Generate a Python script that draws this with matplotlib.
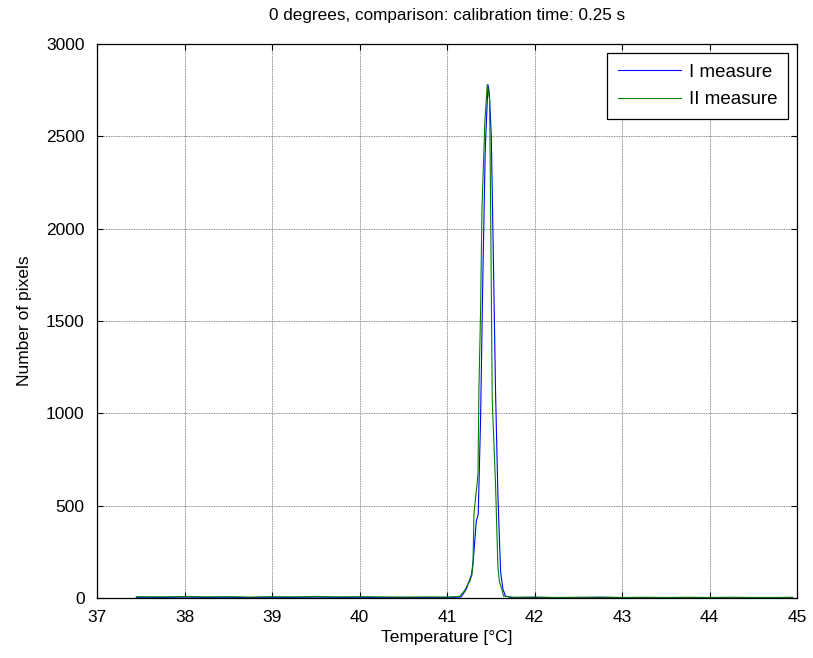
import numpy as np
import matplotlib
matplotlib.use('Agg')
import matplotlib.pyplot as plt

plt.rcParams['font.family'] = ['Liberation Sans', 'DejaVu Sans']

# baseline temperatures either side of the peak
base_left_t = [37.45, 37.75, 38.0, 38.25, 38.5, 38.75, 39.0, 39.25, 39.5, 39.75,
               40.0, 40.25, 40.5, 40.75, 41.0]
base_right_t = [41.75, 42.0, 42.25, 42.5, 42.75, 43.0, 43.25, 43.5, 43.75, 44.0,
                44.25, 44.5, 44.75, 44.95]

# I measure (blue)
t1_peak = [41.16, 41.22, 41.28, 41.30, 41.335, 41.357, 41.384, 41.41, 41.437,
           41.468, 41.483, 41.506, 41.525, 41.555, 41.582, 41.612, 41.639, 41.669]
n1_peak = [5, 48, 126, 203, 416, 455, 977, 1750, 2427,
           2780, 2737, 2505, 1983, 1112, 551, 145, 48, 10]
n1_left = [4, 3, 5, 3, 4, 2, 4, 3, 5, 3, 4, 2, 3, 2, 3]
n1_right = [2, 3, 2, 2, 3, 2, 2, 1, 2, 2, 1, 2, 1, 2]

# II measure (green)
t2_peak = [41.144, 41.2, 41.24, 41.259, 41.285, 41.297, 41.308, 41.354, 41.365,
           41.384, 41.399, 41.433, 41.46, 41.487, 41.498, 41.517, 41.555, 41.582,
           41.6, 41.627, 41.646]
n2_peak = [8, 39, 77, 87, 126, 184, 455, 667, 1131,
           1557, 2099, 2582, 2780, 2698, 2137, 1073, 609, 164,
           87, 48, 10]
n2_left = [7, 6, 8, 6, 7, 5, 7, 6, 8, 6, 7, 6, 5, 6, 5]
n2_right = [4, 5, 3, 4, 5, 3, 4, 3, 4, 3, 4, 3, 3, 4]

t1 = base_left_t + t1_peak + base_right_t
n1 = n1_left + n1_peak + n1_right
t2 = base_left_t + t2_peak + base_right_t
n2 = n2_left + n2_peak + n2_right

fig = plt.figure(figsize=(8.13, 6.58), dpi=100)
ax = fig.add_axes([97/813, 1 - 598/658, 700/813, 554/658])

ax.plot(t1, n1, color=(0, 0, 1), lw=0.8, label='I measure')
ax.plot(t2, n2, color=(0, 0.5, 0), lw=0.8, label='II measure')

ax.set_xlim(37, 45)
ax.set_ylim(0, 3000)
ax.set_xticks(range(37, 46))
ax.set_yticks(range(0, 3001, 500))
ax.tick_params(direction='in', top=True, right=True, length=4, width=0.8,
               labelsize=12.5)
ax.tick_params(axis='x', pad=9)
ax.tick_params(axis='y', pad=9)
ax.grid(True, color='0.4', linestyle=(0, (1, 1)), lw=0.6)
for s in ax.spines.values():
    s.set_linewidth(0.9)

ax.set_xlabel('Temperature [°C]', fontsize=12.5, labelpad=3)
ax.set_ylabel('Number of pixels', fontsize=12.5, labelpad=10)
ax.set_title('0 degrees, comparison: calibration time: 0.25 s', fontsize=12.3, pad=17)

leg = ax.legend(loc='upper right', fontsize=13.5, fancybox=False, framealpha=1,
                edgecolor='black', handlelength=3.4, handletextpad=0.4,
                borderaxespad=0.5, labelspacing=0.55, borderpad=0.55)
leg.get_frame().set_linewidth(0.9)

fig.savefig('out.png', dpi=100)
